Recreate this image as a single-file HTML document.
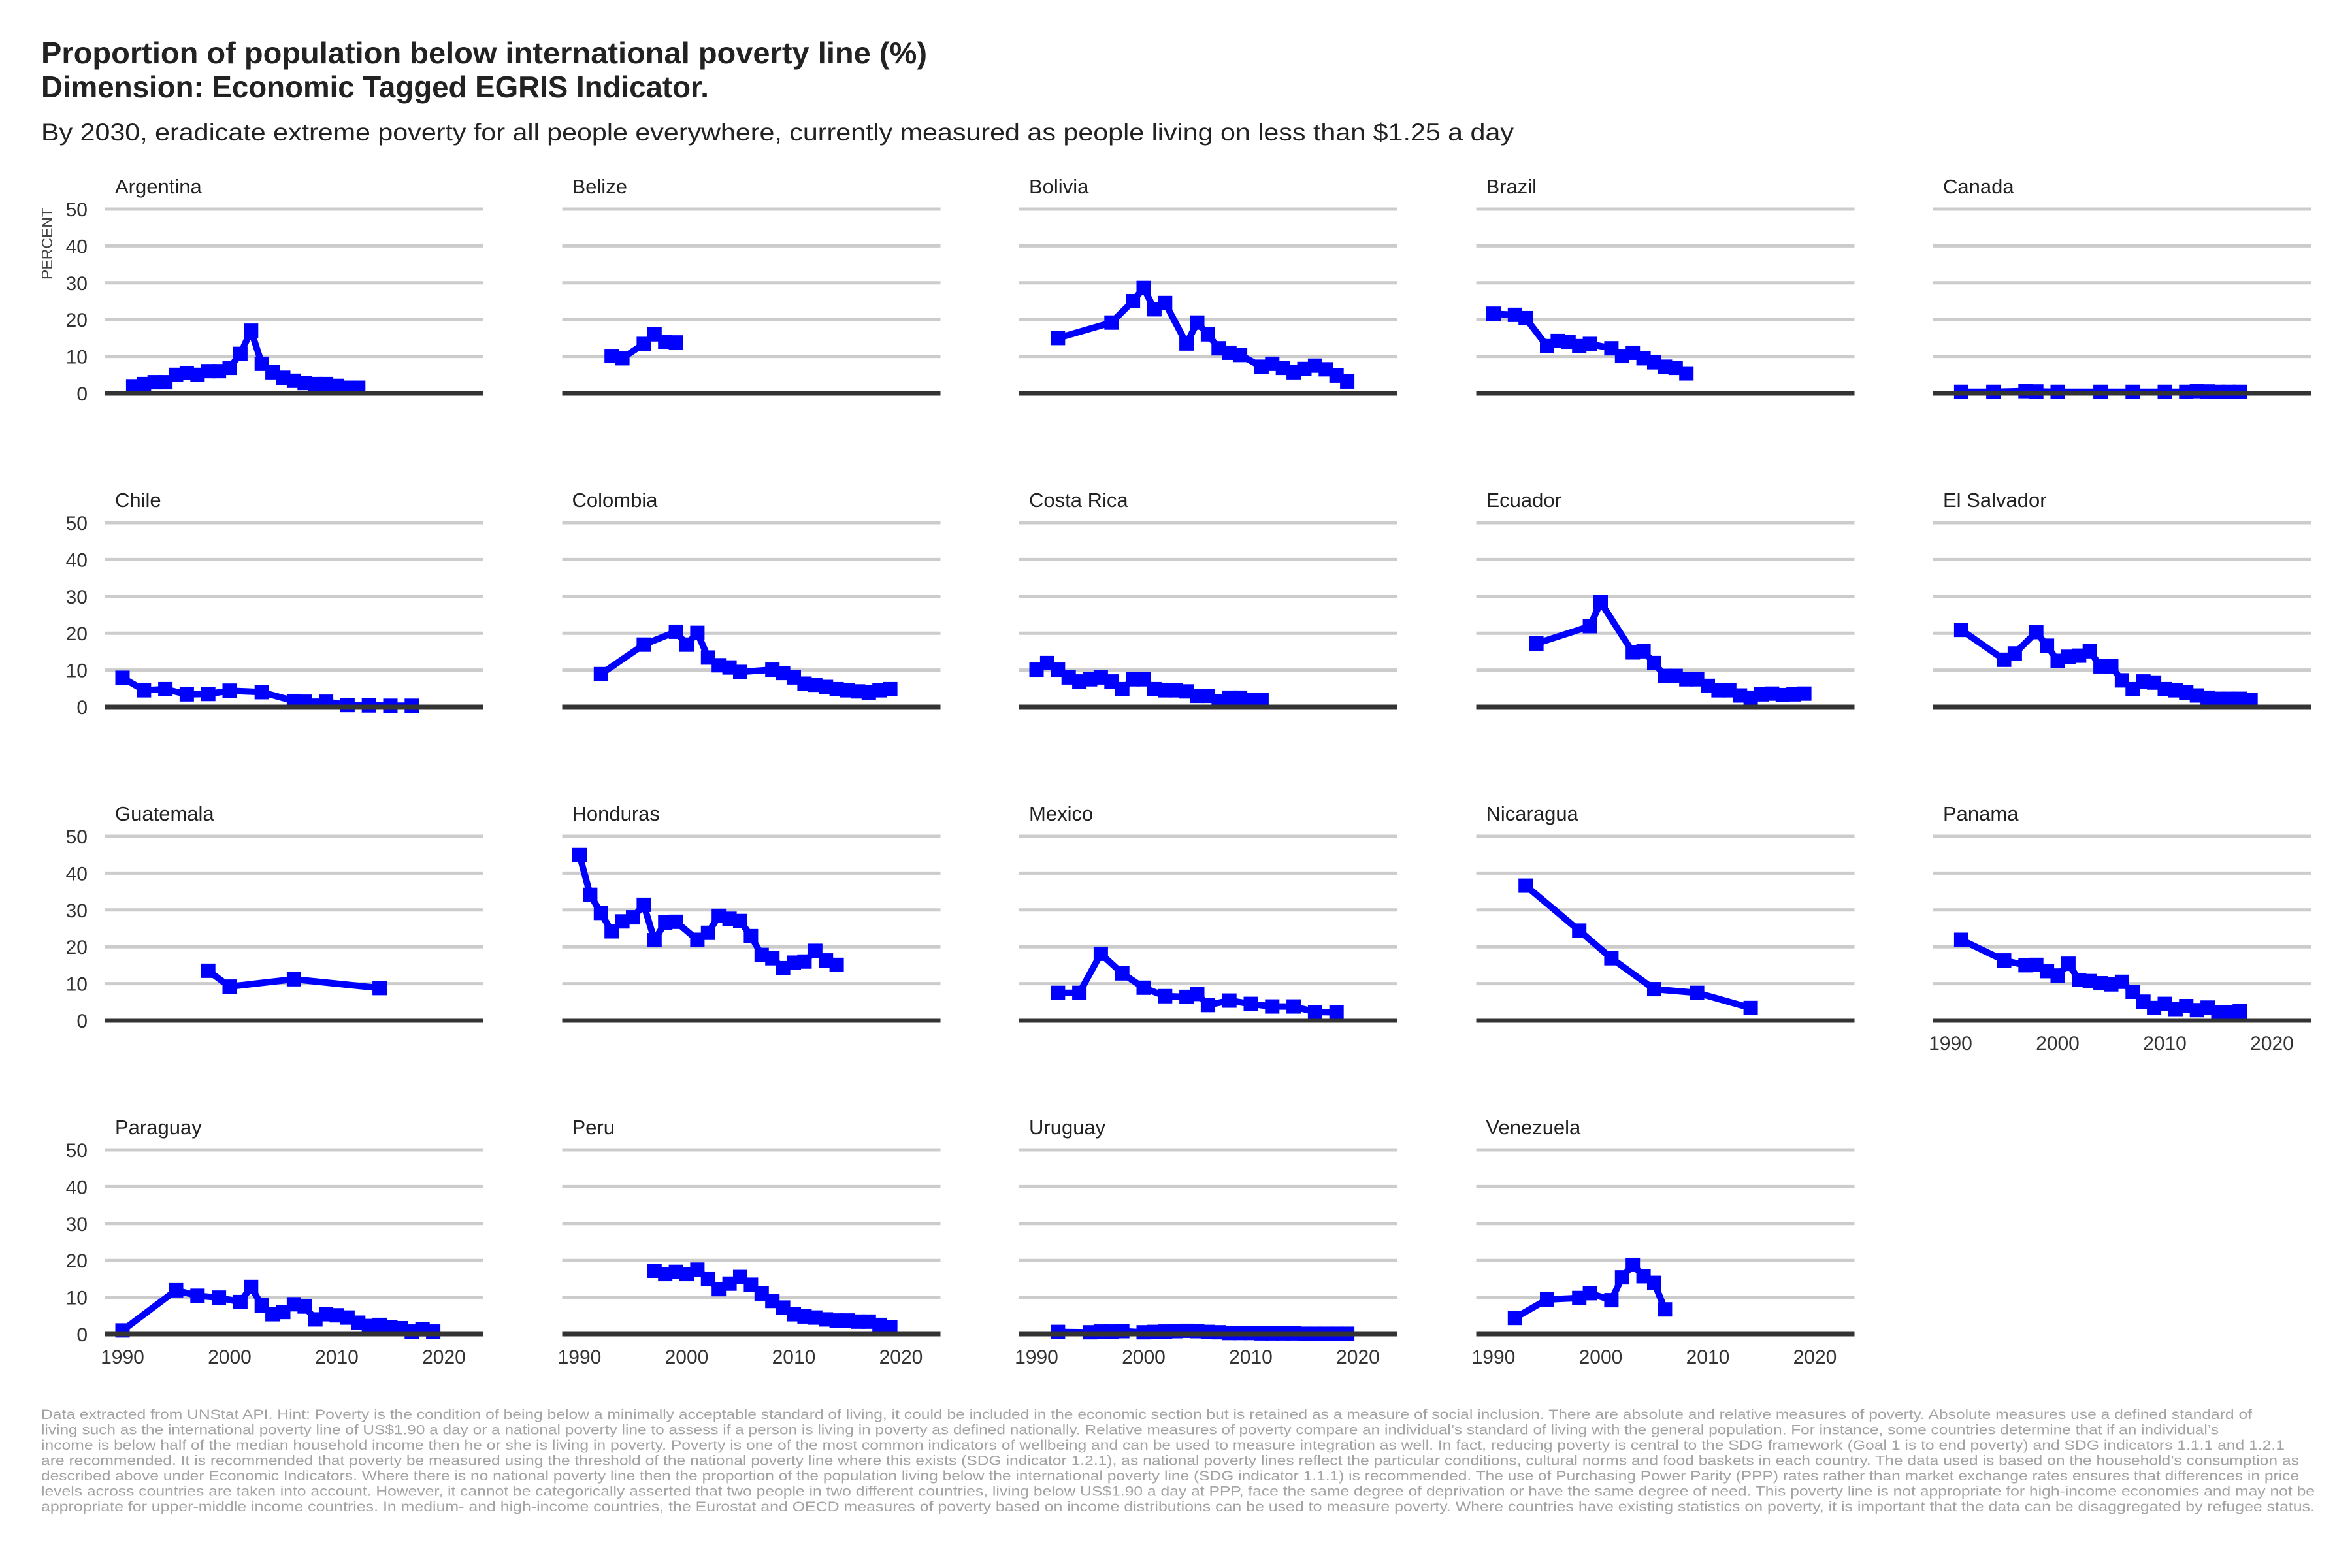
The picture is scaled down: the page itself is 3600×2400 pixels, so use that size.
<!DOCTYPE html>
<html><head><meta charset="utf-8"><title>Proportion of population below international poverty line</title>
<style>
html,body{margin:0;padding:0;background:#fff;}
svg{display:block;font-family:"Liberation Sans",sans-serif;}
</style></head>
<body>
<svg id="chart" xmlns="http://www.w3.org/2000/svg" width="3600" height="2400" viewBox="0 0 3600 2400">
<rect x="0" y="0" width="3600" height="2400" fill="#ffffff"/>
<text x="63" y="97" font-size="46" font-weight="bold" fill="#222" textLength="1356" lengthAdjust="spacingAndGlyphs">Proportion of population below international poverty line (%)</text>
<text x="63" y="149" font-size="46" font-weight="bold" fill="#222" textLength="1022" lengthAdjust="spacingAndGlyphs">Dimension: Economic Tagged EGRIS Indicator.</text>
<text x="63" y="215" font-size="37" fill="#222" textLength="2254" lengthAdjust="spacingAndGlyphs">By 2030, eradicate extreme poverty for all people everywhere, currently measured as people living on less than $1.25 a day</text>
<text x="0" y="0" font-size="23" fill="#444" text-anchor="middle" transform="translate(80,373) rotate(-90)">PERCENT</text>
<g id="panels"></g>
<g id="footnote" font-size="21" fill="#a3a3a3">
<text x="63" y="2172" textLength="3384" lengthAdjust="spacingAndGlyphs">Data extracted from UNStat API. Hint: Poverty is the condition of being below a minimally acceptable standard of living, it could be included in the economic section but is retained as a measure of social inclusion. There are absolute and relative measures of poverty. Absolute measures use a defined standard of</text>
<text x="63" y="2195.5" textLength="3333" lengthAdjust="spacingAndGlyphs">living such as the international poverty line of US$1.90 a day or a national poverty line to assess if a person is living in poverty as defined nationally. Relative measures of poverty compare an individual’s standard of living with the general population. For instance, some countries determine that if an individual’s</text>
<text x="63" y="2219" textLength="3434" lengthAdjust="spacingAndGlyphs">income is below half of the median household income then he or she is living in poverty. Poverty is one of the most common indicators of wellbeing and can be used to measure integration as well. In fact, reducing poverty is central to the SDG framework (Goal 1 is to end poverty) and SDG indicators 1.1.1 and 1.2.1</text>
<text x="63" y="2242.5" textLength="3456" lengthAdjust="spacingAndGlyphs">are recommended. It is recommended that poverty be measured using the threshold of the national poverty line where this exists (SDG indicator 1.2.1), as national poverty lines reflect the particular conditions, cultural norms and food baskets in each country. The data used is based on the household’s consumption as</text>
<text x="63" y="2266" textLength="3456" lengthAdjust="spacingAndGlyphs">described above under Economic Indicators. Where there is no national poverty line then the proportion of the population living below the international poverty line (SDG indicator 1.1.1) is recommended. The use of Purchasing Power Parity (PPP) rates rather than market exchange rates ensures that differences in price</text>
<text x="63" y="2289.5" textLength="3480" lengthAdjust="spacingAndGlyphs">levels across countries are taken into account. However, it cannot be categorically asserted that two people in two different countries, living below US$1.90 a day at PPP, face the same degree of deprivation or have the same degree of need. This poverty line is not appropriate for high-income economies and may not be</text>
<text x="63" y="2313" textLength="3480" lengthAdjust="spacingAndGlyphs">appropriate for upper-middle income countries. In medium- and high-income countries, the Eurostat and OECD measures of poverty based on income distributions can be used to measure poverty. Where countries have existing statistics on poverty, it is important that the data can be disaggregated by refugee status.</text>
</g>
</svg>
<script>
// ---- data ----
const countryNames = ["Argentina","Belize","Bolivia","Brazil","Canada","Chile","Colombia","Costa Rica","Ecuador","El Salvador","Guatemala","Honduras","Mexico","Nicaragua","Panama","Paraguay","Peru","Uruguay","Venezuela"];
const yTicks = [0,10,20,30,40,50];
const xTicks = [1990,2000,2010,2020];

const argentinaYears = [1991,1992,1993,1994,1995,1996,1997,1998,1999,2000,2001,2002,2003,2004,2005,2006,2007,2008,2009,2010,2011,2012];
const argentinaValues = [1.9,2.5,3,3,5,5.5,5,6,6,6.9,10.7,17,8,5.7,4.2,3.4,2.8,2.5,2.5,2,1.5,1.5];
const belizeYears = [1993,1994,1996,1997,1998,1999];
const belizeValues = [10.1,9.5,13.4,16,14,13.8];
const boliviaYears = [1992,1997,1999,2000,2001,2002,2004,2005,2006,2007,2008,2009,2011,2012,2013,2014,2015,2016,2017,2018,2019];
const boliviaValues = [15,19.2,25,28.6,22.8,24.5,13.5,19.2,16,12.2,11,10.4,7.2,8,6.9,5.7,6.6,7.5,6.5,4.8,3.2];
const brazilYears = [1990,1992,1993,1995,1996,1997,1998,1999,2001,2002,2003,2004,2005,2006,2007,2008];
const brazilValues = [21.6,21.3,20.4,12.8,14.2,14,12.8,13.4,12.2,10.1,11,9.5,8.4,7.2,6.9,5.4];
const canadaYears = [1991,1994,1997,1998,2000,2004,2007,2010,2012,2013,2014,2015,2016,2017];
const canadaValues = [0.4,0.4,0.6,0.5,0.4,0.4,0.4,0.4,0.4,0.6,0.5,0.4,0.4,0.4];
const chileYears = [1990,1992,1994,1996,1998,2000,2003,2006,2007,2009,2011,2013,2015,2017];
const chileValues = [7.9,4.5,4.8,3.4,3.5,4.4,4,1.6,1.4,1.4,0.5,0.4,0.3,0.3];
const colombiaYears = [1992,1996,1999,2000,2001,2002,2003,2004,2005,2008,2009,2010,2011,2012,2013,2014,2015,2016,2017,2018,2019];
const colombiaValues = [8.9,16.9,20.4,16.9,20.1,13.4,11.3,10.7,9.5,10.1,9.2,8,6.3,6,5.4,4.8,4.5,4.2,3.9,4.5,4.8];
const costaRicaYears = [1990,1991,1992,1993,1994,1995,1996,1997,1998,1999,2000,2001,2002,2003,2004,2005,2006,2007,2008,2009,2010,2011];
const costaRicaValues = [10.1,11.9,10.1,8,6.9,7.5,8,6.9,4.8,7.5,7.5,4.8,4.5,4.5,4.2,3,3,1.6,2.5,2.5,1.9,1.9];
const ecuadorYears = [1994,1999,2000,2003,2004,2005,2006,2007,2008,2009,2010,2011,2012,2013,2014,2015,2016,2017,2018,2019];
const ecuadorValues = [17.2,21.9,28.4,14.8,15.1,11.9,8.4,8.4,7.5,7.5,5.7,4.5,4.5,3.1,2.5,3.4,3.6,3.2,3.4,3.6];
const elSalvadorYears = [1991,1995,1996,1998,1999,2000,2001,2002,2003,2004,2005,2006,2007,2008,2009,2010,2011,2012,2013,2014,2015,2016,2017,2018];
const elSalvadorValues = [20.9,12.8,14.5,20.3,16.6,12.5,13.6,13.9,15.1,11,11,7.2,4.8,6.9,6.6,4.8,4.5,3.9,3.1,2.5,2.2,2.2,2.2,1.9];
const guatemalaYears = [1998,2000,2006,2014];
const guatemalaValues = [13.5,9.2,11.2,8.8];
const hondurasYears = [1990,1991,1992,1993,1994,1995,1996,1997,1998,1999,2001,2002,2003,2004,2005,2006,2007,2008,2009,2010,2011,2012,2013,2014];
const hondurasValues = [44.9,34.1,29.2,24.2,26.9,28,31.4,21.8,26.6,26.8,21.9,23.8,28.4,27.6,27,22.9,17.8,16.9,14.2,15.7,16,18.9,16.3,15.1];
const mexicoYears = [1992,1994,1996,1998,2000,2002,2004,2005,2006,2008,2010,2012,2014,2016,2018];
const mexicoValues = [7.5,7.5,18.1,12.8,8.9,6.6,6.4,7.2,4.2,5.4,4.5,3.8,3.8,2.3,2.2];
const nicaraguaYears = [1993,1998,2001,2005,2009,2014];
const nicaraguaValues = [36.6,24.4,16.9,8.5,7.5,3.4];
const panamaYears = [1991,1995,1997,1998,1999,2000,2001,2002,2003,2004,2005,2006,2007,2008,2009,2010,2011,2012,2013,2014,2015,2016,2017];
const panamaValues = [21.9,16.3,15,15.1,13.4,12.2,15.4,11,10.7,10.1,9.8,10.5,7.8,5.1,3.4,4.5,3.1,3.9,2.8,3.5,2.2,2.2,2.5];
const paraguayYears = [1990,1995,1997,1999,2001,2002,2003,2004,2005,2006,2007,2008,2009,2010,2011,2012,2013,2014,2015,2016,2017,2018,2019];
const paraguayValues = [1,11.9,10.4,9.9,8.7,12.8,7.8,5.4,6,8.1,7.5,4,5.4,5.1,4.5,3.1,2.2,2.5,1.9,1.6,0.7,1.3,0.7];
const peruYears = [1997,1998,1999,2000,2001,2002,2003,2004,2005,2006,2007,2008,2009,2010,2011,2012,2013,2014,2015,2016,2017,2018,2019];
const peruValues = [17.2,16.3,16.9,16.3,17.5,14.9,12.2,13.7,15.5,13.4,11,9,7.2,5.4,4.8,4.5,4,3.7,3.7,3.4,3.4,2.5,1.9];
const uruguayYears = [1992,1995,1996,1997,1998,2000,2001,2002,2003,2004,2005,2006,2007,2008,2009,2010,2011,2012,2013,2014,2015,2016,2017,2018,2019];
const uruguayValues = [0.6,0.5,0.7,0.7,0.8,0.5,0.6,0.7,0.8,0.9,0.8,0.6,0.5,0.3,0.3,0.3,0.2,0.2,0.2,0.2,0.1,0.1,0.1,0.1,0.1];
const venezuelaYears = [1992,1995,1998,1999,2001,2002,2003,2004,2005,2006];
const venezuelaValues = [4.4,9.4,9.8,11.1,9.2,15.4,18.8,15.7,13.9,6.7];

const seriesYears = [argentinaYears,belizeYears,boliviaYears,brazilYears,canadaYears,chileYears,colombiaYears,costaRicaYears,ecuadorYears,elSalvadorYears,guatemalaYears,hondurasYears,mexicoYears,nicaraguaYears,panamaYears,paraguayYears,peruYears,uruguayYears,venezuelaYears];
const seriesValues = [argentinaValues,belizeValues,boliviaValues,brazilValues,canadaValues,chileValues,colombiaValues,costaRicaValues,ecuadorValues,elSalvadorValues,guatemalaValues,hondurasValues,mexicoValues,nicaraguaValues,panamaValues,paraguayValues,peruValues,uruguayValues,venezuelaValues];

// ---- layout ----
const NS = "http://www.w3.org/2000/svg";
const COL0 = 161, COLSTEP = 699.5, PANELW = 579;
const ROW0 = 602, ROWSTEP = 480, PXPERUNIT = 5.64;
const YEAR0 = 1990, PXPERYEAR = 16.4, YEAROFF = 26.5;
function xScale(col, year){ return COL0 + col*COLSTEP + YEAROFF + (year - YEAR0)*PXPERYEAR; }
function yScale(row, v){ return ROW0 + row*ROWSTEP - v*PXPERUNIT; }
function slug(s){ return s.toLowerCase().replace(/\s+/g,'-'); }
function mk(tag, attrs){ const e = document.createElementNS(NS, tag); for (const k in attrs) e.setAttribute(k, attrs[k]); return e; }

const root = document.getElementById('panels');
countryNames.forEach((name, i) => {
  const col = i % 5, row = Math.floor(i / 5);
  const x0 = COL0 + col*COLSTEP;
  const g = mk('g', {});
  
  
  root.appendChild(g);

  const title = mk('text', {x: x0 + 15, y: yScale(row, 0) - 306, 'font-size': 31, fill: '#222'});
  
  
  title.textContent = name;
  g.appendChild(title);

  yTicks.forEach(t => {
    if (t === 0) return;
    const gl = mk('line', {x1: x0, x2: x0 + PANELW, y1: yScale(row, t), y2: yScale(row, t), stroke: '#cccccc', 'stroke-width': 5});
    
    
    g.appendChild(gl);
  });
  if (col === 0) {
    yTicks.forEach(t => {
      const tl = mk('text', {x: 134, y: yScale(row, t) + 11, 'font-size': 30, fill: '#333', 'text-anchor': 'end'});
      
      
      tl.textContent = t;
      g.appendChild(tl);
    });
  }
  if (row === 3 || (row === 2 && col === 4)) {
    xTicks.forEach(t => {
      const xl = mk('text', {x: xScale(col, t), y: yScale(row, 0) + 45, 'font-size': 30, fill: '#333', 'text-anchor': 'middle'});
      
      
      xl.textContent = t;
      g.appendChild(xl);
    });
  }

  const yrs = seriesYears[i], vals = seriesValues[i];
  const pts = yrs.map((y, k) => xScale(col, y).toFixed(1) + ',' + yScale(row, vals[k]).toFixed(1)).join(' ');
  const line = mk('polyline', {points: pts, fill: 'none', stroke: '#0000ff', 'stroke-width': 10, 'stroke-linejoin': 'round'});
  
  
  g.appendChild(line);
  yrs.forEach((y, k) => {
    const m = mk('rect', {x: xScale(col, y) - 11, y: yScale(row, vals[k]) - 11, width: 22, height: 22, fill: '#0000ff'});
    
    
    g.appendChild(m);
  });

  const ax = mk('line', {x1: x0, x2: x0 + PANELW, y1: yScale(row, 0), y2: yScale(row, 0), stroke: '#333333', 'stroke-width': 7});
  
  
  g.appendChild(ax);
});
</script>
</body></html>
